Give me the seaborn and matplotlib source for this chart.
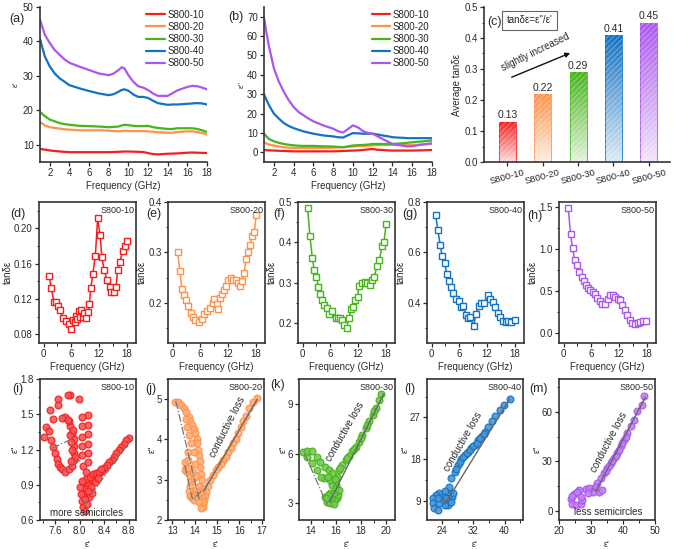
import numpy as np
import pandas as pd
import matplotlib
matplotlib.use("Agg")
import matplotlib.pyplot as plt
import seaborn as sns
from matplotlib.ticker import MultipleLocator
from matplotlib.colors import LinearSegmentedColormap, to_rgb
from matplotlib.patches import Rectangle

# ---------------- data ----------------
samples = ["S800-10", "S800-20", "S800-30", "S800-40", "S800-50"]
colors = ["#F51E1E", "#FF924A", "#45B51A", "#1272C4", "#A957EE"]

freq_a = [1, 1.5, 2, 2.5, 3, 3.5, 4, 5, 6, 7, 8, 8.5, 9, 9.3, 9.6, 10, 10.5, 11, 11.5, 12,
          12.5, 13, 14, 14.5, 15, 16, 16.5, 17, 17.5, 18]
eps1_10 = [8.8, 8.6, 8.35, 8.2, 8.05, 7.95, 7.85, 7.85, 7.85, 7.85, 7.85, 7.9, 7.95, 8.0, 8.05, 8.05,
           8.0, 7.95, 7.9, 7.6, 7.3, 7.2, 7.4, 7.45, 7.5, 7.7, 7.75, 7.7, 7.65, 7.6]
eps1_20 = [16.6, 15.6, 15.1, 14.9, 14.7, 14.5, 14.4, 14.2, 14.2, 14.2, 14.1, 14.0, 13.9, 14.0, 14.1,
           14.0, 14.0, 14.0, 14.0, 13.9, 13.8, 13.6, 13.5, 13.5, 13.7, 13.9, 13.9, 13.7, 13.4, 13.0]
eps1_30 = [19.5, 18.3, 17.3, 16.8, 16.3, 16.0, 15.8, 15.5, 15.4, 15.3, 15.1, 15.2, 15.3, 15.6, 15.8,
           15.7, 15.5, 15.4, 15.4, 15.5, 15.1, 14.9, 14.6, 14.6, 14.8, 14.8, 14.8, 14.6, 14.2, 13.7]
eps1_40 = [40.7, 35.6, 32.7, 30.7, 29.3, 28.3, 27.3, 26.4, 25.6, 24.9, 24.4, 24.7, 25.4, 25.9, 26.1,
           25.7, 24.6, 23.9, 23.9, 23.6, 22.8, 22.1, 21.6, 21.7, 21.7, 21.9, 22.0, 22.1, 22.0, 21.7]
eps1_50 = [46.3, 41.9, 39.5, 37.5, 36.1, 34.8, 33.8, 32.7, 31.7, 30.7, 30.2, 30.7, 31.7, 32.5, 32.2,
           30.2, 28.3, 27.0, 26.6, 25.9, 24.9, 24.2, 24.2, 25.0, 25.8, 26.8, 27.1, 27.0, 26.6, 26.1]

freq_b = [1, 1.25, 1.5, 2, 2.5, 3, 3.5, 4, 4.5, 5, 5.5, 6, 7, 8, 8.5, 9, 9.5, 10, 10.5, 11, 11.5,
          12, 12.5, 13, 13.5, 14, 14.5, 15, 15.5, 16, 17, 18]
eps2_10 = [1.2, 1.1, 1.0, 0.9, 0.8, 0.7, 0.6, 0.5, 0.5, 0.5, 0.5, 0.5, 0.5, 0.5, 0.6, 0.7, 0.8, 0.9,
           1.0, 1.2, 1.5, 1.7, 1.3, 1.2, 1.0, 0.9, 0.9, 0.9, 0.9, 0.9, 1.0, 1.2]
eps2_20 = [5.2, 4.5, 4.0, 3.5, 3.0, 2.6, 2.4, 2.3, 2.3, 2.3, 2.3, 2.3, 2.3, 2.4, 2.5, 2.6, 2.8, 3.0,
           3.1, 3.3, 3.4, 3.6, 3.7, 3.8, 3.8, 3.8, 3.8, 3.8, 3.8, 3.8, 4.0, 4.3]
eps2_30 = [9.6, 8.2, 6.9, 5.7, 4.9, 4.3, 3.9, 3.6, 3.4, 3.3, 3.3, 3.3, 3.1, 3.0, 2.8, 2.6, 3.1, 3.5,
           3.7, 3.8, 4.0, 4.3, 4.3, 4.3, 4.3, 4.3, 4.5, 4.7, 4.9, 5.2, 5.6, 6.1]
eps2_40 = [30.0, 27.0, 24.3, 20.0, 17.4, 15.1, 13.6, 12.5, 11.6, 10.8, 10.2, 9.6, 8.7, 8.2, 7.8, 7.6,
           8.8, 9.9, 9.8, 9.6, 9.6, 9.6, 9.2, 8.7, 8.3, 7.8, 7.6, 7.5, 7.3, 7.3, 7.3, 7.3]
eps2_50 = [69.5, 61.7, 54.7, 43.4, 36.5, 31.3, 26.9, 23.4, 20.8, 19.1, 17.4, 16.0, 13.9, 12.2, 10.9,
           10.2, 12.0, 13.9, 12.9, 11.0, 10.0, 9.6, 8.2, 6.9, 5.6, 4.3, 3.8, 3.5, 3.0, 3.1, 4.0, 4.7]

avg_tan = [0.13, 0.22, 0.29, 0.41, 0.45]

f_d = [1.16, 1.67, 2.2, 2.7, 3.1, 3.55, 4.1, 4.9, 5.4, 5.9, 6.3, 6.7, 7.0, 7.3, 7.6, 7.9, 8.2, 8.5,
       8.8, 9.1, 9.6, 9.9, 10.2, 10.65, 11.2, 11.7, 12.2, 12.6, 13.1, 13.7, 14.3, 14.6, 15.3, 15.7,
       16.0, 16.5, 17.1, 17.6, 18.0]
tan_d = [0.146, 0.132, 0.117, 0.116, 0.112, 0.108, 0.098, 0.095, 0.092, 0.086, 0.096, 0.094, 0.101,
         0.097, 0.106, 0.099, 0.108, 0.100, 0.104, 0.098, 0.105, 0.114, 0.132, 0.148, 0.169, 0.212,
         0.193, 0.168, 0.153, 0.142, 0.134, 0.128, 0.128, 0.134, 0.153, 0.162, 0.174, 0.180, 0.186]
f_e = [1.09, 1.6, 2.0, 2.5, 3.0, 3.4, 3.9, 4.5, 4.9, 5.8, 6.4, 6.9, 7.5, 8.1, 8.7, 9.0, 9.5, 9.9,
       10.3, 10.7, 11.2, 11.6, 12.0, 12.6, 13.0, 13.7, 14.2, 14.6, 15.0, 15.5, 15.9, 16.4, 16.8,
       17.2, 17.7, 18.1]
tan_e = [0.300, 0.262, 0.228, 0.216, 0.205, 0.193, 0.180, 0.172, 0.166, 0.161, 0.168, 0.177, 0.184,
         0.190, 0.200, 0.207, 0.197, 0.187, 0.210, 0.217, 0.226, 0.234, 0.246, 0.250, 0.246, 0.246,
         0.240, 0.234, 0.243, 0.259, 0.286, 0.300, 0.315, 0.332, 0.341, 0.375]
f_f = [1.08, 1.58, 2.1, 2.5, 2.95, 3.4, 3.8, 4.25, 4.7, 5.3, 5.8, 6.4, 7.2, 7.7, 8.0, 8.5, 9.0, 9.5,
       10.0, 10.5, 10.9, 11.4, 11.9, 12.2, 12.8, 13.4, 13.9, 14.5, 15.1, 15.5, 16.1, 16.6, 17.2,
       17.6, 18.1]
tan_f = [0.484, 0.415, 0.362, 0.332, 0.315, 0.290, 0.271, 0.257, 0.244, 0.238, 0.223, 0.229, 0.212,
         0.211, 0.211, 0.208, 0.194, 0.187, 0.212, 0.234, 0.240, 0.257, 0.265, 0.292, 0.298, 0.301,
         0.300, 0.293, 0.307, 0.315, 0.340, 0.357, 0.390, 0.400, 0.446]
f_g = [0.86, 1.37, 1.87, 2.3, 2.8, 3.3, 3.75, 4.25, 4.7, 5.3, 5.9, 6.35, 6.9, 7.5, 7.9, 8.4, 9.1,
       9.6, 10.15, 10.7, 11.4, 12.2, 12.7, 13.3, 13.8, 14.4, 14.9, 15.5, 16.0, 16.5, 17.1, 18.0]
tan_g = [0.749, 0.687, 0.628, 0.585, 0.557, 0.515, 0.485, 0.463, 0.437, 0.413, 0.407, 0.381, 0.385,
         0.351, 0.338, 0.342, 0.308, 0.355, 0.387, 0.400, 0.398, 0.429, 0.413, 0.403, 0.381, 0.361,
         0.342, 0.329, 0.325, 0.329, 0.325, 0.332]
f_h = [1.0, 1.5, 1.93, 2.4, 2.9, 3.4, 3.9, 4.4, 4.8, 5.3, 5.8, 6.3, 6.8, 7.3, 7.8, 8.4, 9.0, 9.5,
       10.0, 10.6, 11.1, 11.7, 12.2, 12.7, 13.2, 13.8, 14.3, 14.9, 15.5, 16.1, 16.6, 17.2, 17.9]
tan_h = [1.49, 1.175, 1.01, 0.874, 0.806, 0.726, 0.667, 0.615, 0.568, 0.536, 0.508, 0.488, 0.46,
         0.421, 0.381, 0.342, 0.342, 0.41, 0.449, 0.457, 0.429, 0.41, 0.398, 0.33, 0.27, 0.21,
         0.151, 0.119, 0.112, 0.119, 0.131, 0.139, 0.143]

# Cole-Cole (eps', eps'') point pairs
cc_10 = [(8.80, 1.30), (8.76, 1.28), (8.72, 1.25), (8.68, 1.22), (8.64, 1.20), (8.60, 1.17),
         (8.56, 1.14), (8.52, 1.11), (8.48, 1.09), (8.44, 1.07), (8.40, 1.04), (8.36, 1.02),
         (8.32, 1.00), (8.28, 0.98), (8.24, 0.96), (8.20, 0.94), (8.17, 0.92), (8.13, 0.90),
         (8.10, 0.86), (8.06, 0.82), (8.03, 0.76), (8.05, 0.71), (8.08, 0.68), (8.12, 0.74),
         (8.02, 0.82), (8.00, 0.88), (8.06, 0.92), (8.11, 0.95), (8.16, 0.97), (8.21, 0.99),
         (8.26, 1.00), (8.31, 1.01), (8.25, 0.92), (8.19, 0.88), (8.15, 0.80), (8.09, 0.78),
         (8.03, 0.93), (8.30, 0.96), (8.35, 1.03), (8.20, 0.83), (8.14, 0.85), (8.04, 1.48),
         (8.04, 1.40), (8.04, 1.31), (8.04, 1.23), (8.04, 1.15), (8.05, 1.06), (8.13, 1.49),
         (8.13, 1.41), (8.13, 1.33), (8.13, 1.25), (8.13, 1.17), (8.14, 1.09), (8.10, 1.01),
         (7.98, 1.63), (7.84, 1.66), (7.81, 1.66), (7.64, 1.63), (7.64, 1.58), (7.57, 1.46),
         (7.51, 1.54), (7.45, 1.39), (7.42, 1.31), (7.50, 1.36), (7.53, 1.28), (7.56, 1.22),
         (7.60, 1.17), (7.63, 1.12), (7.65, 1.08), (7.68, 1.05), (7.71, 1.03), (7.76, 1.01),
         (7.82, 1.03), (7.87, 1.06), (7.90, 1.11), (7.91, 1.17), (7.91, 1.23), (7.90, 1.29),
         (7.87, 1.34), (7.84, 1.40), (7.82, 1.44), (7.76, 1.48), (7.71, 1.47), (7.88, 1.20),
         (7.86, 1.26), (7.84, 1.32), (7.92, 1.14), (7.89, 1.37), (7.80, 1.45), (7.85, 1.10)]
cc_20 = [(16.78, 5.04), (16.60, 4.92), (16.45, 4.77), (16.30, 4.58), (16.18, 4.45), (16.06, 4.30),
         (15.95, 4.15), (15.84, 4.02), (15.72, 3.90), (15.60, 3.78), (15.50, 3.68), (15.38, 3.57),
         (15.27, 3.48), (15.16, 3.40), (15.05, 3.32), (14.93, 3.24), (14.82, 3.12), (14.70, 2.99),
         (14.60, 2.85), (14.50, 2.70), (14.45, 2.60), (14.40, 2.50), (14.38, 2.40), (14.35, 2.32),
         (14.30, 2.30), (13.12, 4.93), (13.27, 4.92), (13.40, 4.85), (13.50, 4.77), (13.60, 4.67),
         (13.72, 4.56), (13.80, 4.45), (13.88, 4.35), (13.95, 4.25), (14.03, 4.15), (14.08, 4.02),
         (14.10, 3.90), (14.14, 3.75), (14.18, 3.61), (14.22, 3.46), (14.25, 3.32), (14.30, 3.15),
         (14.33, 2.99), (14.33, 2.80), (14.33, 2.57), (14.37, 2.45), (13.55, 3.45), (13.60, 3.30),
         (13.65, 3.20), (13.55, 3.25), (13.70, 3.50), (13.75, 3.30), (13.80, 3.10), (13.85, 2.95),
         (13.80, 2.85), (13.75, 2.72), (13.80, 2.60), (13.88, 2.55), (13.95, 2.50), (14.00, 2.62),
         (14.05, 2.75), (14.10, 2.65), (14.15, 2.55), (14.20, 2.45), (13.90, 3.20), (14.00, 3.40),
         (13.95, 3.70), (13.85, 3.90), (13.75, 4.10), (13.65, 4.30), (13.62, 4.50), (13.68, 3.70),
         (13.95, 3.05), (14.05, 3.10), (14.18, 2.85), (14.22, 2.70)]
cc_30 = [(19.62, 9.60), (19.40, 9.22), (19.15, 8.76), (18.92, 8.35), (18.65, 7.95), (18.38, 7.55),
         (18.11, 7.14), (17.84, 6.73), (17.57, 6.43), (17.30, 6.13), (17.03, 5.87), (16.77, 5.62),
         (16.50, 5.32), (16.23, 5.02), (16.10, 4.61), (16.02, 4.11), (15.96, 3.60), (16.10, 3.30),
         (15.70, 3.10), (15.30, 3.10), (15.15, 3.40), (15.50, 3.60), (15.70, 4.10), (15.56, 4.41),
         (15.02, 4.52), (14.80, 4.60), (14.48, 5.02), (14.08, 5.42), (13.68, 5.82), (13.40, 6.07),
         (13.68, 6.13), (14.08, 6.13), (14.48, 5.82), (14.75, 5.52), (15.15, 5.22), (15.42, 5.02),
         (15.69, 4.82), (15.50, 3.00), (15.90, 3.20), (16.15, 3.50), (15.60, 3.30), (15.40, 3.50),
         (15.80, 3.60), (16.00, 3.90), (15.20, 3.30), (15.85, 2.95), (16.20, 3.80), (15.35, 4.60),
         (15.90, 4.45), (16.35, 5.15), (16.90, 5.75), (17.45, 6.28), (18.00, 6.95), (18.50, 7.75),
         (19.00, 8.55)]
cc_40 = [(41.3, 30.95), (39.9, 29.66), (38.7, 28.6), (37.56, 27.35), (36.7, 26.3), (35.85, 24.97),
         (35.0, 23.9), (34.1, 22.96), (33.26, 22.1), (32.4, 21.0), (31.5, 20.3), (30.7, 19.57),
         (29.8, 18.86), (28.9, 17.93), (28.1, 16.7), (27.2, 15.25), (26.3, 13.82), (25.7, 12.0),
         (25.3, 10.6), (25.9, 9.15), (25.5, 8.06), (24.6, 8.06), (24.2, 9.15), (24.3, 10.2),
         (23.3, 10.6), (22.4, 10.2), (21.6, 9.5), (21.6, 8.4), (22.0, 7.35), (22.9, 6.98),
         (23.3, 8.4), (26.6, 9.8), (26.2, 8.6), (25.0, 9.6), (24.8, 11.0), (27.6, 15.9),
         (28.5, 17.3), (29.4, 18.4), (30.3, 19.2), (31.1, 19.9), (32.0, 20.7), (32.9, 21.5),
         (33.7, 22.5), (34.6, 23.4), (22.8, 9.6), (26.8, 10.6)]
cc_50 = [(46.56, 69.5), (46.06, 64.4), (44.5, 60.4), (43.4, 55.3), (42.4, 51.2), (41.4, 47.2),
         (40.3, 43.1), (39.3, 39.1), (38.25, 35.0), (37.2, 32.0), (36.2, 29.0), (35.1, 25.9),
         (34.1, 22.9), (33.0, 19.8), (32.0, 16.8), (30.9, 13.7), (32.5, 11.6), (30.5, 11.6),
         (28.3, 13.6), (26.25, 12.6), (24.7, 10.5), (23.6, 7.5), (24.2, 4.4), (25.2, 3.4),
         (26.8, 4.4), (27.3, 6.5), (26.8, 8.4), (29.3, 14.0), (31.5, 14.8), (33.5, 12.5),
         (34.6, 24.4), (35.6, 27.4), (36.7, 30.5), (37.7, 33.5), (38.8, 37.0), (39.8, 41.0),
         (40.8, 45.0), (25.5, 11.5), (24.0, 9.0), (29.0, 11.0)]

# ---------------- style ----------------
sns.set_theme(style="white")
plt.rcParams["font.family"] = ["Liberation Sans", "DejaVu Sans"]
plt.rcParams["hatch.linewidth"] = 0.5
TXT = "#2a2a2a"

W, H = 676, 549
fig = plt.figure(figsize=(6.76, 5.49), dpi=100)


def add_ax(l, t, r, b):
    return fig.add_axes([l / W, 1 - b / H, (r - l) / W, (b - t) / H])


def style(ax, full=True):
    ax.spines["top"].set_visible(full)
    ax.spines["right"].set_visible(full)
    for s in ax.spines.values():
        s.set_linewidth(1.2)
        s.set_color("#333333")
    ax.tick_params(which="major", direction="out", length=3, width=0.9, labelsize=7,
                   colors=TXT, pad=1.5, left=True, bottom=True, top=False, right=False)
    ax.tick_params(which="minor", direction="out", length=1.8, width=0.7,
                   left=True, bottom=True, top=False, right=False)
    ax.set_facecolor("white")


def plabel(x, y, s):
    fig.text(x / W, 1 - y / H, s, fontsize=9, color=TXT, ha="center", va="center")


# ---------------- (a) ----------------
ax_a = add_ax(40, 7, 207, 162)
df_a = pd.DataFrame({"f": freq_a * 5,
                     "v": eps1_10 + eps1_20 + eps1_30 + eps1_40 + eps1_50,
                     "s": sum([[s] * len(freq_a) for s in samples], [])})
sns.lineplot(data=df_a, x="f", y="v", hue="s", palette=colors, ax=ax_a, lw=1.6,
             estimator=None, sort=False)
ax_a.set_xlim(1, 18)
ax_a.set_ylim(5, 50)
ax_a.xaxis.set_major_locator(MultipleLocator(2))
ax_a.yaxis.set_major_locator(MultipleLocator(10))
style(ax_a, full=False)
ax_a.set_xlabel("Frequency (GHz)", fontsize=7, color=TXT, labelpad=2)
ax_a.set_ylabel("ε'", fontsize=6, color=TXT, labelpad=2)
ax_a.legend(loc="upper right", bbox_to_anchor=(1.02, 1.02), frameon=False, fontsize=7,
            handlelength=1.9, handletextpad=0.3, labelspacing=0.22, borderaxespad=0.2)
plabel(17, 19, "(a)")

# ---------------- (b) ----------------
ax_b = add_ax(264, 7, 432, 162)
df_b = pd.DataFrame({"f": freq_b * 5,
                     "v": eps2_10 + eps2_20 + eps2_30 + eps2_40 + eps2_50,
                     "s": sum([[s] * len(freq_b) for s in samples], [])})
sns.lineplot(data=df_b, x="f", y="v", hue="s", palette=colors, ax=ax_b, lw=1.6,
             estimator=None, sort=False)
ax_b.set_xlim(1, 18)
ax_b.set_ylim(-5, 75)
ax_b.xaxis.set_major_locator(MultipleLocator(2))
ax_b.yaxis.set_major_locator(MultipleLocator(10))
style(ax_b, full=False)
ax_b.set_xlabel("Frequency (GHz)", fontsize=7, color=TXT, labelpad=2)
ax_b.set_ylabel("ε''", fontsize=6, color=TXT, labelpad=1)
ax_b.legend(loc="upper right", bbox_to_anchor=(1.02, 1.02), frameon=False, fontsize=7,
            handlelength=1.9, handletextpad=0.3, labelspacing=0.22, borderaxespad=0.2)
plabel(236, 17, "(b)")

# ---------------- (c) ----------------
ax_c = add_ax(484, 7, 670, 162)
sns.barplot(x=samples, y=avg_tan, hue=samples, palette=colors, ax=ax_c, legend=False,
            width=0.48, saturation=1)
grad = np.linspace(0, 1, 128).reshape(-1, 1)
for p, c in zip(ax_c.patches, colors):
    x0, y0, w, h = p.get_x(), p.get_y(), p.get_width(), p.get_height()
    rgb = np.array(to_rgb(c))
    light = rgb + (1 - rgb) * 0.85
    cm = LinearSegmentedColormap.from_list("g", [light, rgb])
    im = ax_c.imshow(grad, extent=[x0, x0 + w, y0, y0 + h], origin="lower", aspect="auto",
                     cmap=cm, zorder=1)
    im.set_clip_path(p)
    p.set_facecolor("none")
    p.set_edgecolor(c)
    p.set_linewidth(0.6)
    p.set_zorder(2)
    ax_c.add_patch(Rectangle((x0, y0), w, h, fill=False, hatch="//////",
                             edgecolor=(1, 1, 1, 0.45), lw=0, zorder=2))
for i, v in enumerate(avg_tan):
    ax_c.text(i, v + 0.004, f"{v:.2f}", ha="center", va="bottom", fontsize=7.5, color=TXT)
ax_c.set_xlim(-0.66, 4.6)
ax_c.set_ylim(0, 0.5)
ax_c.yaxis.set_major_locator(MultipleLocator(0.1))
ax_c.yaxis.set_minor_locator(MultipleLocator(0.05))
style(ax_c, full=False)
ax_c.tick_params(axis="x", labelsize=6.8, rotation=15)
ax_c.set_ylabel("Average tanδε", fontsize=7, color=TXT, labelpad=2)
ax_c.text(0.63, 0.457, "tanδε=ε''/ε'", fontsize=7, color=TXT, ha="center", va="center",
          bbox=dict(boxstyle="square,pad=0.45", fc="white", ec="#666666", lw=0.8))
ax_c.annotate("", xy=(1.85, 0.355), xytext=(0.05, 0.27),
              arrowprops=dict(arrowstyle="-|>", color="#111111", lw=1, mutation_scale=7))
ax_c.text(0.8, 0.355, "slightly increased", rotation=26, fontsize=7, color=TXT,
          ha="center", va="center")
plabel(495, 22, "(c)")

# ---------------- (d)-(h) ----------------
mid = [
    (39, f_d, tan_d, (0.07, 0.23), 0.04, 0.02, "(d)", 18),
    (168, f_e, tan_e, (0.12, 0.40), 0.1, 0.05, "(e)", 154),
    (298, f_f, tan_f, (0.15, 0.50), 0.1, 0.05, "(f)", 279),
    (427, f_g, tan_g, (0.24, 0.80), 0.2, 0.1, "(g)", 410),
    (559, f_h, tan_h, (-0.12, 1.56), 0.5, 0.25, "(h)", 535),
]
for k, (l, fx, ty, yl, maj, mnr, lab, lx) in enumerate(mid):
    ax = add_ax(l, 202, l + 97, 343)
    sns.lineplot(x=fx, y=ty, ax=ax, color=colors[k], lw=1.1, marker="s", markersize=4,
                 markerfacecolor="white", markeredgecolor=colors[k], markeredgewidth=1,
                 estimator=None, sort=False)
    ax.set_xlim(-1, 20)
    ax.set_ylim(*yl)
    ax.xaxis.set_major_locator(MultipleLocator(6))
    ax.xaxis.set_minor_locator(MultipleLocator(3))
    ax.yaxis.set_major_locator(MultipleLocator(maj))
    ax.yaxis.set_minor_locator(MultipleLocator(mnr))
    style(ax)
    if k == 0:
        ax.yaxis.set_major_formatter(matplotlib.ticker.FormatStrFormatter("%.2f"))
    else:
        ax.yaxis.set_major_formatter(matplotlib.ticker.FormatStrFormatter("%.1f"))
    ax.set_xlabel("Frequency (GHz)", fontsize=7, color=TXT, labelpad=2)
    ax.set_ylabel("tanδε", fontsize=7, color=TXT, labelpad=1)
    ax.text(0.98, 0.97, samples[k], transform=ax.transAxes, ha="right", va="top",
            fontsize=6.5, color=TXT)
    plabel(lx, 216 if k == 4 else 214, lab)

# ---------------- (i)-(m) ----------------
bot = [
    (40, cc_10, (7.35, 8.92), (0.6, 1.8), 0.4, 0.2, 0.3, 0.15, "(i)", 18, 389),
    (168, cc_20, (12.8, 17.1), (2.0, 5.5), 1, 0.5, 1, 0.5, "(j)", 151, 389),
    (299, cc_30, (13.05, 20.7), (2.0, 10.5), 2, 1, 3, 1.5, "(k)", 278, 385),
    (427, cc_40, (20.1, 44.7), (4.8, 35.3), 8, 4, 9, 4.5, "(l)", 410, 389),
    (559, cc_50, (20, 50), (-5.5, 80), 10, 5, 30, 15, "(m)", 539, 389),
]
guide_solid = [None,
               [(14.4, 2.72), (16.8, 5.0)],
               [(15.5, 3.1), (19.8, 9.6)],
               [(25.0, 8.6), (41.3, 31.0)],
               [(31.5, 12.0), (47.0, 69.0)]]
guide_dash = [[[(7.55, 1.21), (7.87, 1.29)], [(7.71, 1.02), (8.05, 1.12)],
               [(8.06, 0.72), (8.85, 1.30)]],
              [[(13.15, 4.95), (14.2, 2.5)], [(13.55, 3.35), (13.9, 2.5), (14.35, 2.75)]],
              [[(13.5, 6.0), (15.3, 2.9)]],
              [[(24.4, 9.0), (26.3, 10.0)]],
              [[(30.0, 13.5), (32.5, 12.0)]]]
cl_text = [None, (227, 427, 63), (345, 432, 60), (463, 442, 60), (609, 442, 62)]

for k, (l, pts, xl, yl, xmaj, xmin_, ymaj, ymin_, lab, lx, ly) in enumerate(bot):
    ax = add_ax(l, 379, l + 96, 520)
    xs = [p[0] for p in pts]
    ys = [p[1] for p in pts]
    rgb = np.array(to_rgb(colors[k]))
    face = rgb + (1 - rgb) * 0.25
    sns.scatterplot(x=xs, y=ys, ax=ax, s=24, color=face, edgecolor=colors[k],
                    linewidth=0.9, alpha=0.9, zorder=3)
    for seg in guide_dash[k]:
        ax.plot([q[0] for q in seg], [q[1] for q in seg], ls="-.", color="#777777", lw=0.9,
                zorder=4)
    if guide_solid[k] is not None:
        seg = guide_solid[k]
        ax.plot([q[0] for q in seg], [q[1] for q in seg], ls="-", color="#666666", lw=1.0,
                zorder=4)
    ax.set_xlim(*xl)
    ax.set_ylim(*yl)
    ax.xaxis.set_major_locator(MultipleLocator(xmaj))
    ax.xaxis.set_minor_locator(MultipleLocator(xmin_))
    ax.yaxis.set_major_locator(MultipleLocator(ymaj))
    ax.yaxis.set_minor_locator(MultipleLocator(ymin_))
    style(ax)
    if k == 0:
        ax.xaxis.set_major_formatter(matplotlib.ticker.FormatStrFormatter("%.1f"))
        ax.yaxis.set_major_formatter(matplotlib.ticker.FormatStrFormatter("%.1f"))
    ax.set_xlabel("ε'", fontsize=6.5, color=TXT, labelpad=3)
    ax.set_ylabel("ε''", fontsize=6.5, color=TXT, labelpad=0)
    ax.text(0.98, 0.97, samples[k], transform=ax.transAxes, ha="right", va="top",
            fontsize=6.5, color=TXT)
    plabel(lx, ly, lab)
    if cl_text[k] is not None:
        tx, ty, rot = cl_text[k]
        fig.text(tx / W, 1 - ty / H, "conductive loss", rotation=rot, fontsize=7,
                 color=TXT, ha="center", va="center")

fig.text(87 / W, 1 - 513 / H, "more semicircles", fontsize=7, color=TXT, ha="center",
         va="center")
fig.text(608 / W, 1 - 512 / H, "less semicircles", fontsize=7, color=TXT, ha="center",
         va="center")

fig.savefig("out.png", dpi=100, facecolor="white")
